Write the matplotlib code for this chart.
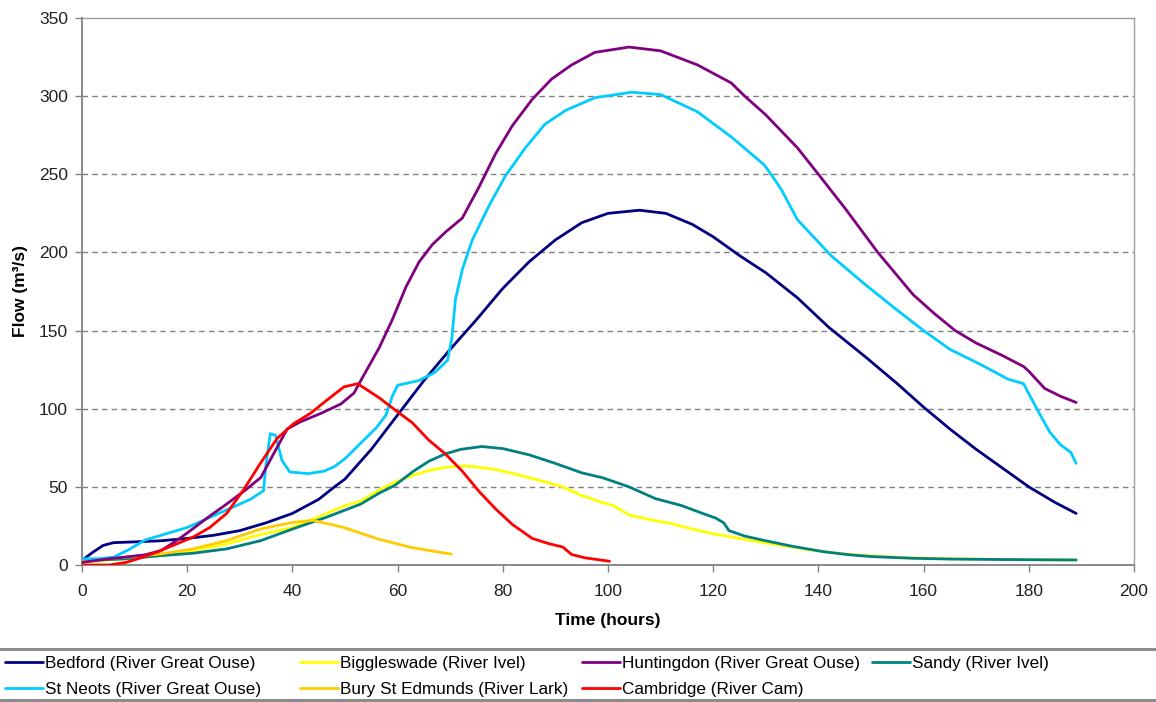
import matplotlib.pyplot as plt
from matplotlib.patches import Rectangle

plt.rcParams['font.family'] = ['Liberation Sans', 'DejaVu Sans']

# Hydrograph data: time (hours) and flow (m3/s) per gauging station
bedford_t = [0, 2, 4, 6, 10, 15, 20, 25, 30, 35, 40, 45, 48, 50, 55, 60, 65, 70, 75, 80,
             85, 90, 95, 100, 106, 111, 116, 120, 125, 130, 136, 142, 149, 155, 160, 165,
             170, 175, 180, 185, 189]
bedford_q = [3, 8, 12.5, 14.3, 14.8, 15.5, 17, 19, 22, 27, 33, 42, 50, 55, 74, 96, 118, 138,
             157, 177, 194, 208, 219, 225, 227, 225, 218, 210, 198, 187, 171, 152, 133, 116,
             101, 87, 74, 62, 50, 40, 33]

biggleswade_t = [0, 8, 15, 21, 27.5, 34, 40, 46.5, 50, 53, 56.5, 59.5, 63, 66, 69, 73, 78,
                 82, 86, 91, 95, 98, 101, 104, 108, 112, 116, 120, 125, 129, 133, 137, 141,
                 146, 152, 158, 165, 175, 189]
biggleswade_q = [1.7, 3.9, 6, 9.2, 13.5, 19.5, 24, 33, 38, 41, 48, 53, 57.5, 60.5, 62.5,
                 63.4, 61.5, 58.5, 55, 50.5, 44.5, 41, 38, 32, 29, 26.5, 23, 20, 17, 14.7,
                 12.5, 10.4, 8.5, 6.7, 5.5, 4.5, 4, 3.5, 3.2]

huntingdon_t = [0, 5, 8, 12, 15, 18, 21, 24, 27.5, 31, 34, 36.4, 39, 41.5, 45.4, 49.2, 51.7,
                53, 56.5, 59, 61.6, 64.1, 66.6, 69.1, 72.3, 75.5, 78.6, 81.8, 85.6, 89.3,
                93.1, 97.5, 104, 110, 117, 123.4, 126, 130, 136, 140, 145, 151.3, 158, 162,
                166, 170, 175, 179, 180, 183, 186, 189]
huntingdon_q = [1.7, 3.9, 5, 6.5, 9.2, 15.6, 23, 30.6, 39, 47.8, 56, 71, 87, 91.6, 97, 103,
                110, 118, 139, 157, 178, 194, 205, 213, 222, 242, 263, 281, 298, 311, 320,
                328, 331.4, 329, 320, 308.5, 300, 288, 267, 250, 228.5, 200, 173, 161, 150,
                142, 134, 127, 124, 113, 108, 104]

sandy_t = [0, 8, 15, 21, 27.5, 34, 40, 46.5, 53, 56.5, 59.5, 63, 66, 69, 72, 76, 80, 85,
           90, 95, 99, 104, 109, 114, 118, 120.5, 122, 123, 126, 130, 135, 141, 146, 150,
           158, 165, 175, 189]
sandy_q = [2.8, 3.9, 6, 7.5, 10.3, 15.6, 23, 30.6, 39, 46, 51, 60, 66.5, 71, 74, 75.8, 74.5,
           70.5, 65, 59, 55.8, 50, 42.5, 38, 33, 30, 27, 22, 18.5, 15.5, 12, 8.5, 6.5, 5.4,
           4.3, 3.8, 3.5, 3.2]

stneots_t = [0, 3, 6, 9, 12, 16, 20, 24, 28, 32, 34.5, 35, 35.8, 36.8, 38, 39.5, 43, 46,
             48, 50, 53, 56, 57.8, 59, 60, 64, 67, 69.5, 70.3, 71, 72.3, 74.2, 77.4, 80.5,
             84.3, 88, 92, 97.5, 104.5, 110, 117, 123.4, 129.7, 131, 133, 136, 142.4, 148.7,
             155, 160, 165, 171, 176, 179, 182, 184, 186, 188, 189]
stneots_q = [4, 4, 5, 10, 16, 20, 24, 30, 36, 42, 47.5, 65, 84, 83, 67, 59.5, 58.5, 60, 63,
             68, 78, 88, 96, 108, 115, 118, 123, 131, 145, 170, 189, 208, 230, 249, 267, 282,
             291, 299, 302.5, 301, 290, 274, 256, 250, 240, 221, 198, 180, 163, 150, 138,
             128, 119, 116, 97, 85, 77, 72, 65]

bury_t = [0, 8.4, 14.8, 21.1, 27.5, 33.9, 40.3, 44, 49.8, 56.2, 62.5, 68.3, 70.2]
bury_q = [2.8, 5, 7, 10.3, 15.6, 23, 27.4, 28.5, 24, 16.7, 11.3, 8, 7]

cambridge_t = [0, 5.2, 8.4, 11.6, 14.8, 18, 21.1, 24.3, 27.5, 30.7, 33.9, 37.1, 40.3, 43.4,
               46.6, 49.8, 52.4, 56.5, 59.6, 62.8, 65.9, 69.1, 72.3, 75.5, 78.6, 81.8, 85.6,
               88.8, 91.4, 93.1, 95.6, 100.3]
cambridge_q = [0, 0, 1.7, 5, 9, 13.5, 17.8, 24, 33, 48, 65, 81, 90.6, 97, 105.6, 114, 116,
               107, 99, 91, 80, 71, 60, 47, 36, 26, 17, 13.6, 11.5, 6.7, 4.6, 2.4]

series = {
    'Bedford (River Great Ouse)': (bedford_t, bedford_q, '#000080'),
    'Biggleswade (River Ivel)': (biggleswade_t, biggleswade_q, '#FFFF00'),
    'Sandy (River Ivel)': (sandy_t, sandy_q, '#008080'),
    'Bury St Edmunds (River Lark)': (bury_t, bury_q, '#FFCC00'),
    'St Neots (River Great Ouse)': (stneots_t, stneots_q, '#00CCFF'),
    'Huntingdon (River Great Ouse)': (huntingdon_t, huntingdon_q, '#800080'),
    'Cambridge (River Cam)': (cambridge_t, cambridge_q, '#FF0000'),
}

# legend columns: (left edge in pixels, names top to bottom)
legend_cols = [
    (5, ['Bedford (River Great Ouse)', 'St Neots (River Great Ouse)']),
    (300, ['Biggleswade (River Ivel)', 'Bury St Edmunds (River Lark)']),
    (582, ['Huntingdon (River Great Ouse)', 'Cambridge (River Cam)']),
    (872, ['Sandy (River Ivel)']),
]

W, H = 1156, 702
fig = plt.figure(figsize=(W / 100, H / 100), dpi=100)
ax = fig.add_axes([82 / W, 1 - 565 / H, (1134 - 82) / W, (565 - 18) / H])

handles = {}
for i, (name, (t, q, c)) in enumerate(series.items()):
    line, = ax.plot(t, q, color=c, lw=2.0, label=name, zorder=3 + i,
                    solid_joinstyle='round', solid_capstyle='round')
    handles[name] = line

ax.set_xlim(0, 200)
ax.set_ylim(0, 350)
ax.set_xticks(range(0, 201, 20))
ax.set_yticks(range(0, 351, 50))
ax.tick_params(direction='out', length=5, width=1, color='#808080',
               labelsize=12.5, labelcolor='#222222')
ax.tick_params(axis='x', pad=9)
ax.tick_params(axis='y', pad=5)
for s in ['left', 'bottom']:
    ax.spines[s].set_color('#808080')
    ax.spines[s].set_linewidth(1.3)
for s in ['top', 'right']:
    ax.spines[s].set_color('#A0A0A0')
    ax.spines[s].set_linewidth(1.0)

for yv in range(50, 301, 50):
    ax.axhline(yv, color='#808080', lw=1, ls=(0, (4, 3)), zorder=1)

ax.set_xlabel('Time (hours)', fontsize=12.5, fontweight='bold', labelpad=10)
ax.set_ylabel('Flow (m³/s)', fontsize=12.5, fontweight='bold', labelpad=8)

# legend box along the bottom, running off both sides of the figure
fig.patches.append(Rectangle((-0.01, 1 - 700 / H), 1.02, (700 - 649) / H,
                             transform=fig.transFigure, fill=False,
                             edgecolor='#8C8C8C', lw=2.2))
for x0, names in legend_cols:
    fig.legend([handles[n] for n in names], names, loc='upper left',
               bbox_to_anchor=(x0 / W, 1 - 656 / H), frameon=False,
               fontsize=12.3, handlelength=2.2, handletextpad=0.15,
               labelspacing=0.62, borderpad=0, borderaxespad=0)

fig.savefig('out.png', dpi=100)
